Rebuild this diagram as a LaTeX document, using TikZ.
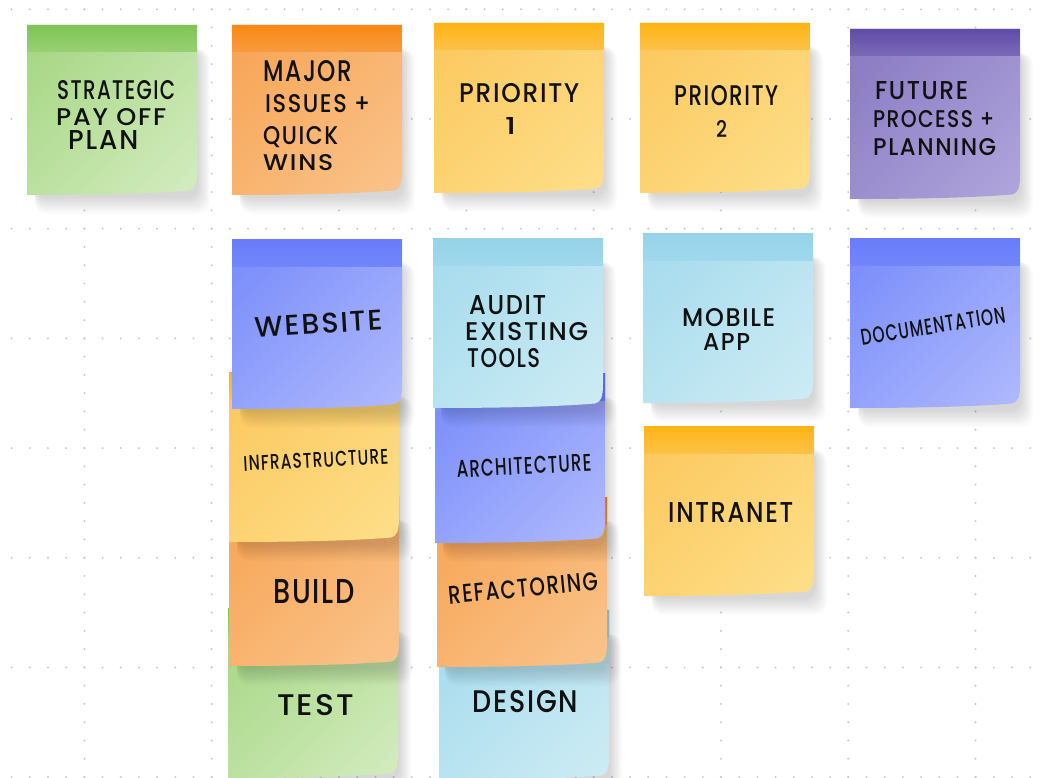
\documentclass[tikz,border=0pt]{standalone}
\usepackage{fontspec}
\newfontfamily\hand{Poppins}[UprightFont=* Medium, LetterSpace=7]
\usetikzlibrary{calc,shadings}

% sticky-note palettes: top band, body upper-left, body lower-right
\definecolor{greenBand}{RGB}{128,196,84}
\definecolor{greenTL}{RGB}{163,213,128}
\definecolor{greenBR}{RGB}{212,236,192}
\definecolor{orangeBand}{RGB}{250,136,20}
\definecolor{orangeTL}{RGB}{247,163,82}
\definecolor{orangeBR}{RGB}{250,196,140}
\definecolor{yellowBand}{RGB}{253,180,20}
\definecolor{yellowTL}{RGB}{252,199,92}
\definecolor{yellowBR}{RGB}{253,223,138}
\definecolor{purpleBand}{RGB}{96,76,166}
\definecolor{purpleTL}{RGB}{135,119,193}
\definecolor{purpleBR}{RGB}{176,166,220}
\definecolor{blueBand}{RGB}{104,124,250}
\definecolor{blueTL}{RGB}{118,138,250}
\definecolor{blueBR}{RGB}{176,186,253}
\definecolor{skyBand}{RGB}{150,211,233}
\definecolor{skyTL}{RGB}{163,218,237}
\definecolor{skyBR}{RGB}{206,236,244}
\colorlet{greenM}{greenTL!50!greenBR}
\colorlet{orangeM}{orangeTL!50!orangeBR}
\colorlet{yellowM}{yellowTL!50!yellowBR}
\colorlet{purpleM}{purpleTL!50!purpleBR}
\colorlet{blueM}{blueTL!50!blueBR}
\colorlet{skyM}{skyTL!50!skyBR}
\definecolor{griddot}{RGB}{200,200,204}
\definecolor{inkc}{RGB}{17,17,17}

% outline of one note, with the curled lower-right corner
\def\notepath{(0,0) -- (170,0) -- (170,146) .. controls (170,159) and (168,164) .. (162,165.5) .. controls (120,169) and (60,170) .. (0,170) -- cycle}

% #1 palette, #2 left, #3 top
\newcommand\stickynote[3]{%
  \begin{scope}[shift={(#2,#3)}]
    \foreach \k in {1,...,8}
      \fill[black,opacity=0.02,rounded corners=12pt] (8,24) rectangle ({170+1.6*\k},{171+2.2*\k});
    \shade[upper left=#1TL, lower right=#1BR, upper right=#1M, lower left=#1M] \notepath;
    \begin{scope}
      \clip \notepath;
      \shade[top color=#1Band, bottom color=#1Band!30!#1TL] (0,0) rectangle (170,27);
    \end{scope}
  \end{scope}}

% handwritten line, stretched to a given width and cap height
\newcommand\hw[3]{\resizebox{#1pt}{#2pt}{#3}}

\tikzset{
  ink/.style={font=\hand, text=inkc, inner sep=0pt, anchor=base west},
  inkc/.style={font=\hand, text=inkc, inner sep=0pt, anchor=center}
}

\begin{document}
\begin{tikzpicture}[x=1pt,y=-1pt]
\useasboundingbox (0,0) rectangle (1043,778);
\fill[white] (0,0) rectangle (1043,778);

% dotted board grid
\foreach \r in {0,...,7}
  \foreach \j in {0,...,56}
    \fill[griddot] ({11.6+18.19*\j},{9.3+109.7*\r}) circle (1.1);
\foreach \c in {0,...,7}
  \foreach \j in {0,...,42}
    \fill[griddot] ({84.4+127.3*\c},{9.3+18.28*\j}) circle (1.1);

% header row
\stickynote{green}{27}{25}
\stickynote{orange}{232}{25}
\stickynote{yellow}{434}{23}
\stickynote{yellow}{640}{23}
\stickynote{purple}{850}{29}

% stacks, bottom note first
\stickynote{green}{228}{608}
\stickynote{orange}{229}{496}
\stickynote{yellow}{229}{372}
\stickynote{blue}{232}{239}

\stickynote{sky}{439}{610}
\stickynote{orange}{437}{497}
\stickynote{blue}{435}{373}
\stickynote{sky}{433}{238}

\stickynote{yellow}{644}{426}
\stickynote{sky}{643}{233}

\stickynote{blue}{850}{238}

% labels
\node[ink] (t1a) at (57,100) {\hw{118}{19}{STRATEGIC}};
\node[ink] (t1b) at (56,126) {\hw{110}{17}{PAY OFF}};
\node[ink] (t1c) at (68,150) {\hw{70}{19}{PLAN}};

\node[ink] (t2a) at (263,82) {\hw{89}{21}{MAJOR}};
\node[ink] (t2b) at (265,113) {\hw{105}{18}{ISSUES +}};
\node[ink] (t2c) at (263,145) {\hw{75}{18}{QUICK}};
\node[ink] (t2d) at (263,171) {\hw{70}{16}{WINS}};

\node[ink] (t3a) at (459,103) {\hw{120}{19}{PRIORITY}};
\node[ink] (t3b) at (505,135) {\hw{11}{17}{1}};

\node[ink] (t4a) at (674,106) {\hw{104}{20}{PRIORITY}};
\node[ink] (t4b) at (716,138) {\hw{11}{17}{2}};

\node[ink] (t5a) at (875,100) {\hw{93}{18}{FUTURE}};
\node[ink] (t5b) at (873,128) {\hw{121}{17}{PROCESS +}};
\node[ink] (t5c) at (873,156) {\hw{123}{17}{PLANNING}};

\node[inkc,rotate=3.5] (t6) at (319,324) {\hw{128}{20}{WEBSITE}};

\node[ink] (t7a) at (469,314) {\hw{77}{19}{AUDIT}};
\node[ink] (t7b) at (465,340) {\hw{123}{18}{EXISTING}};
\node[ink] (t7c) at (467,367) {\hw{73}{19}{TOOLS}};

\node[ink] (t8a) at (682,326) {\hw{93}{18}{MOBILE}};
\node[ink] (t8b) at (703,350) {\hw{47}{17}{APP}};

\node[inkc,rotate=9] (t9) at (933,326) {\hw{146}{16}{DOCUMENTATION}};

\node[inkc,rotate=3] (t10) at (316,460) {\hw{145}{15}{INFRASTRUCTURE}};
\node[inkc,rotate=3] (t11) at (524,466) {\hw{135}{17}{ARCHITECTURE}};
\node[ink] (t12) at (668,522) {\hw{125}{20}{INTRANET}};

\node[ink] (t13) at (273,603) {\hw{82}{24}{BUILD}};
\node[inkc,rotate=5.5] (t14) at (523,588) {\hw{150}{18}{REFACTORING}};

\node[ink] (t15) at (277,715) {\hw{77}{21}{TEST}};
\node[ink] (t16) at (472,712) {\hw{106}{22}{DESIGN}};
\end{tikzpicture}
\end{document}
